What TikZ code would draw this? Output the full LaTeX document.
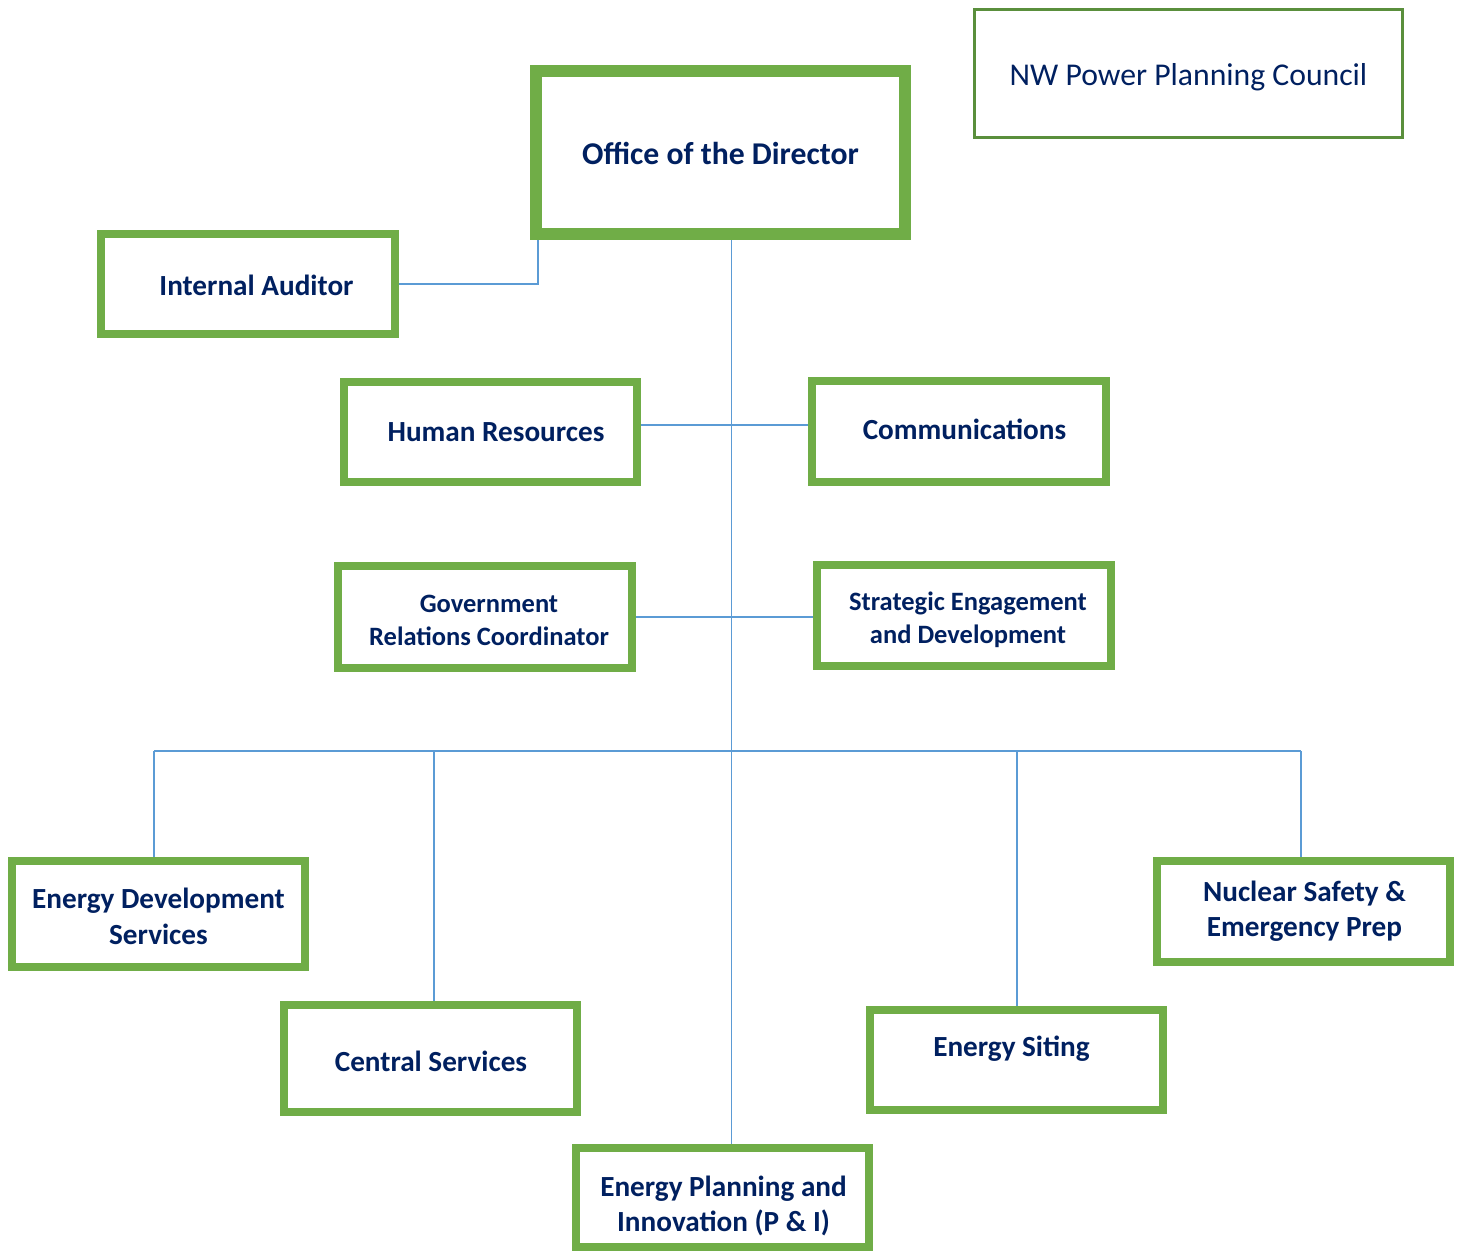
\documentclass[tikz,border=0pt]{standalone}
\usepackage{fontspec}
\setmainfont{Carlito}
\usetikzlibrary{backgrounds}
\definecolor{boxgreen}{HTML}{70AD47}
\definecolor{darkgreen}{HTML}{5A8F3C}
\definecolor{linkblue}{HTML}{5B9BD5}
\definecolor{navy}{HTML}{002060}
\tikzset{
  gbox/.style={draw=boxgreen, line width=4pt, fill=white, inner sep=0pt},
  dbox/.style={draw=boxgreen, line width=6pt, fill=white, inner sep=0pt},
  nwbox/.style={draw=darkgreen, line width=1.5pt, fill=white, inner sep=0pt},
  lbl/.style={text=navy, align=center, inner sep=0pt, font=\fontsize{14.6}{17.75}\selectfont\bfseries},
  slbl/.style={lbl, font=\fontsize{13.25}{16.5}\selectfont\bfseries},
  blbl/.style={lbl, font=\fontsize{15.85}{19}\selectfont\bfseries},
  nwlbl/.style={lbl, font=\fontsize{15.85}{19}\selectfont},
  link/.style={draw=linkblue, line width=0.75pt}
}
\begin{document}
\begin{tikzpicture}[x=0.5pt,y=-0.5pt]
\useasboundingbox (0,0) rectangle (1462,1252);
% boxes
\node[dbox, minimum width=184.5pt, minimum height=81.5pt] (dir) at (720.5,152.5) {};
\node[nwbox, minimum width=214pt, minimum height=64pt] (nw) at (1188.5,73.5) {};
\node[gbox, minimum width=147pt, minimum height=50pt] (ia) at (248,284) {};
\node[gbox, minimum width=146.5pt, minimum height=50pt] (hr) at (490.5,432) {};
\node[gbox, minimum width=147pt, minimum height=50.5pt] (comm) at (959,431.5) {};
\node[gbox, minimum width=147pt, minimum height=51pt] (gov) at (485,617) {};
\node[gbox, minimum width=147pt, minimum height=50.5pt] (strat) at (964,615.5) {};
\node[gbox, minimum width=146.5pt, minimum height=53pt] (eds) at (158.5,914) {};
\node[gbox, minimum width=146.5pt, minimum height=53.5pt] (cs) at (430.5,1058.5) {};
\node[gbox, minimum width=146.5pt, minimum height=49.5pt] (epi) at (722.5,1197.5) {};
\node[gbox, minimum width=146.5pt, minimum height=50pt] (sit) at (1016.5,1060) {};
\node[gbox, minimum width=146.5pt, minimum height=50.5pt] (nuc) at (1303.5,911.5) {};
% labels
\node[blbl] (t-dir) at (720.5,153) {Office of the Director};
\node[nwlbl] (t-nw) at (1188.5,77) {NW Power Planning Council};
\node[lbl] (t-ia) at (256.5,285) {Internal Auditor};
\node[lbl] (t-hr) at (496,432) {Human Resources};
\node[lbl] (t-comm) at (964.5,429) {Communications};
\node[slbl] (t-gov) at (489,620) {Government\\Relations Coordinator};
\node[slbl] (t-strat) at (968,620) {Strategic Engagement\\and Development};
\node[lbl] (t-eds) at (158.5,916.5) {Energy Development\\Services};
\node[lbl] (t-cs) at (431,1061) {Central Services};
\node[lbl] (t-epi) at (723.5,1206) {Energy Planning and\\Innovation (P \& I)};
\node[lbl] (t-sit) at (1011.5,1048.5) {Energy Siting};
\node[lbl] (t-nuc) at (1304.5,911) {Nuclear Safety \&\\Emergency Prep};
% connector coordinates
\coordinate (trunk) at (731.5,751);
\coordinate (hrow) at (731.5,425);
\coordinate (busL) at (154,751);
\coordinate (busC) at (434,751);
\coordinate (busS) at (1017,751);
\coordinate (busR) at (1301,751);
\begin{scope}[on background layer]
\draw[link] (ia.east) -| ([xshift=4pt]dir.south west);
\draw[link] (dir.south -| trunk) -- (trunk) -- (trunk |- epi.north);
\draw[link] (hr.east |- hrow) -- (comm.west |- hrow);
\draw[link] (gov.east) -- (strat.west |- gov.east);
\draw[link] (busL) -- (busR);
\draw[link] (busL) -- (busL |- eds.north);
\draw[link] (busC) -- (busC |- cs.north);
\draw[link] (busS) -- (busS |- sit.north);
\draw[link] (busR) -- (busR |- nuc.north);
\end{scope}
\end{tikzpicture}
\end{document}
